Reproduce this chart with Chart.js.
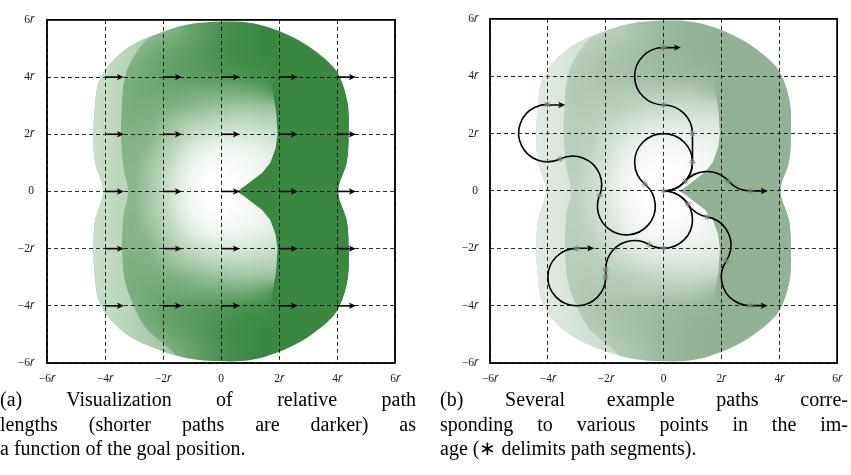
<!DOCTYPE html>
<html>
<head>
<meta charset="utf-8">
<script src="https://cdn.jsdelivr.net/npm/chart.js@4.4.0/dist/chart.umd.min.js"></script>
<style>
html,body{margin:0;padding:0;background:#fff;}
body{width:851px;height:475px;overflow:hidden;position:relative;}
canvas{position:absolute;top:0;}
#chartA{left:0;}
#chartB{left:440px;}
.cap{position:absolute;top:387px;font-family:'Liberation Serif','Times New Roman',serif;font-size:20px;line-height:24.6px;color:#000;}
.cap .j{text-align:justify;text-align-last:justify;}
.cap .l{text-align:left;}
</style>
</head>
<body>
<canvas id="chartA" width="420" height="390" style="width:420px;height:390px"></canvas>
<canvas id="chartB" width="411" height="390" style="width:411px;height:390px"></canvas>
<div class="cap" style="left:0;width:416px">
  <div class="j">(a) Visualization of relative path</div>
  <div class="j">lengths (shorter paths are darker) as</div>
  <div class="l">a function of the goal position.</div>
</div>
<div class="cap" style="left:440px;width:408px">
  <div class="j">(b) Several example paths corre-</div>
  <div class="j">sponding to various points in the im-</div>
  <div class="l">age (∗ delimits path segments).</div>
</div>
<script>
// ---------------- data ----------------
const tickValues = [-6, -4, -2, 0, 2, 4, 6];
const tickLabels = ['−6𝑟', '−4𝑟', '−2𝑟', '0', '2𝑟', '4𝑟', '6𝑟'];

// relative path length field (0 = white / long, 10 = darkest / short)
const fieldX = [-6,-5.5,-5,-4.5,-4,-3.5,-3,-2.5,-2,-1.5,-1,-0.5,0,0.5,1,1.5,2,2.5,3,3.5,4,4.5,5,5.5,6];
const fieldY = [6,5.5,5,4.5,4,3.5,3,2.5,2,1.5,1,0.5,0,-0.5,-1,-1.5,-2,-2.5,-3,-3.5,-4,-4.5,-5,-5.5,-6];
const darkness = [
  [6,6,6,6,6,6,6,6,6.3,6.8,7.8,8.5,9.1,9.5,9.8,10,10,10,10,10,10,10,10,10,10],
  [6,6,6,6,6,6,6,6,6.3,6.8,7.8,8.5,9.1,9.5,9.8,10,10,10,10,10,10,10,10,10,10],
  [6,6,6,6,6,6,6,6.5,7.3,7.8,8.2,8.8,9.3,9.6,9.8,10,10,10,10,10,10,10,10,10,10],
  [6.3,6.3,6.3,6.3,6.3,6.3,6.5,7.3,7.8,8.1,8.4,8.8,9.1,9.4,9.7,9.9,10,10,10,10,10,10,10,10,10],
  [6.5,6.5,6.5,6.5,6.5,6.5,6.8,7.5,7.8,8,8.3,8.5,8.7,8.9,9.2,9.5,10,10,10,10,10,10,10,10,10],
  [6.6,6.6,6.6,6.6,6.6,6.6,7,7.2,7.3,7.2,7,7,7,7,7.2,8,9.5,10,10,10,10,10,10,10,10],
  [6.6,6.6,6.6,6.6,6.6,6.6,6.8,6.8,6.8,6.5,6,5.5,5.2,5,5,5.2,5.2,10,10,10,10,10,10,10,10],
  [6.5,6.5,6.5,6.5,6.5,6.5,6.6,6.5,5.8,5,4.3,3.8,3.5,3.4,3.4,3.6,3.8,10,10,10,10,10,10,10,10],
  [6.4,6.4,6.4,6.4,6.4,6.4,6.4,6.2,5,4,3,2.4,2.1,2,2.1,2.4,2.6,10,10,10,10,10,10,10,10],
  [6.3,6.3,6.3,6.3,6.3,6.3,6.3,5.8,4.3,3,1.8,1.1,0.9,0.9,1.1,1.5,1.8,10,10,10,10,10,10,10,10],
  [6.2,6.2,6.2,6.2,6.2,6.2,6.2,5,3.8,2.3,1,0.4,0.3,0.4,0.6,1,1.2,10,10,10,10,10,10,10,10],
  [6,6,6,6,6,6,6,4.8,3.4,1.8,0.6,0.1,0,0.2,0.4,0.6,1,10,10,10,10,10,10,10,10],
  [6,6,6,6,6,6,6,4.8,3.3,1.7,0.5,0,0,0,0.3,0.5,1,10,10,10,10,10,10,10,10],
  [6,6,6,6,6,6,6,4.8,3.4,1.8,0.6,0.1,0,0.2,0.4,0.6,1,10,10,10,10,10,10,10,10],
  [6.2,6.2,6.2,6.2,6.2,6.2,6.2,5,3.8,2.3,1,0.4,0.3,0.4,0.6,1,1.2,10,10,10,10,10,10,10,10],
  [6.3,6.3,6.3,6.3,6.3,6.3,6.3,5.8,4.3,3,1.8,1.1,0.9,0.9,1.1,1.5,1.8,10,10,10,10,10,10,10,10],
  [6.4,6.4,6.4,6.4,6.4,6.4,6.4,6.2,5,4,3,2.4,2.1,2,2.1,2.4,2.6,10,10,10,10,10,10,10,10],
  [6.5,6.5,6.5,6.5,6.5,6.5,6.6,6.5,5.8,5,4.3,3.8,3.5,3.4,3.4,3.6,3.8,10,10,10,10,10,10,10,10],
  [6.6,6.6,6.6,6.6,6.6,6.6,6.7,6.8,6.8,6.5,6,5.5,5.2,5,5,5.2,5.2,10,10,10,10,10,10,10,10],
  [6.6,6.6,6.6,6.6,6.6,6.6,6.8,7.2,7.3,7.2,7,7,7,7,7.2,8,9.5,10,10,10,10,10,10,10,10],
  [6.5,6.5,6.5,6.5,6.5,6.5,6.6,7.3,7.8,8,8.3,8.5,8.7,8.9,9.2,9.5,10,10,10,10,10,10,10,10,10],
  [6.3,6.3,6.3,6.3,6.3,6.3,6.4,7,7.7,8.1,8.4,8.8,9.1,9.4,9.7,9.9,10,10,10,10,10,10,10,10,10],
  [6,6,6,6,6,6,6,6.5,7.2,7.8,8.2,8.8,9.3,9.6,9.8,10,10,10,10,10,10,10,10,10,10],
  [6,6,6,6,6,6,6,6,6.3,7,7.8,8.5,9.1,9.5,9.8,10,10,10,10,10,10,10,10,10,10],
  [6,6,6,6,6,6,6,6,6.3,7,7.8,8.5,9.1,9.5,9.8,10,10,10,10,10,10,10,10,10,10]
];
// outer limit of the shaded region (x, y in units of r)
const outlineX = [-4.06,-4.34,-4.40,-4.36,-4.22,-3.80,-3.10,-2.22,-1.18,0,1.11,2.26,3.20,3.98,4.36,4.40,4.33,4.04,
                  4.33,4.40,4.36,3.98,3.20,2.26,1.11,0,-1.18,-2.22,-3.10,-3.80,-4.22,-4.36,-4.40,-4.34];
const outlineY = [0,1.0,1.92,2.84,3.80,4.50,5.10,5.50,5.83,5.94,5.88,5.50,4.95,4.20,3.10,1.92,1.0,0,
                  -1.0,-1.92,-3.10,-4.20,-4.95,-5.50,-5.88,-5.94,-5.83,-5.50,-5.10,-4.50,-3.80,-2.84,-1.92,-1.0];
// inner edge of the light outer band on the left (top to bottom)
const bandEdgeX = [-1.2,-1.7,-2.55,-3.13,-3.35,-3.41,-3.45,-3.36,-3.2,-3.36,-3.41,-3.32,-3.0,-2.55,-1.75,-1.1];
const bandEdgeY = [6.3,5.72,5.31,4.5,3.8,3.13,1.98,0.83,0,-0.83,-1.95,-3.1,-4.02,-4.83,-5.52,-6.3];
const bandShadeX = [-4.45, -2.0];
const bandShade = [2.6, 4.6];
// sharp-edged dark region right of the start point
const notchX = [2.2,1.75,1.9,1.95,1.88,1.7,1.42,1.1,0.8,0.55,0.8,1.1,1.42,1.7,1.88,1.95,1.9,1.75,2.2,4.8,4.8];
const notchY = [4.4,3.7,2.8,2.0,1.5,1.0,0.65,0.4,0.17,0,-0.17,-0.4,-0.65,-1.0,-1.5,-2.0,-2.8,-3.7,-4.4,-4.4,4.4];

// (a) goal poses drawn as arrows
const arrowXs = [-4, -2, 0, 2, 4];
const arrowYs = [4, 2, 0, -2, -4];
const arrowLength = 0.65;

// (b) example goals and paths: segment type (L/R turn in degrees, S straight in r)
const goalXs = [0, -4, -3, 3, 3];
const goalYs = [5, 3, -2, 0, -4];
const goalArrowLength = 0.6;
const pathToTop      = [['L',90],['S',1],['L',90],['R',180]];
const pathToUpLeft   = [['L',320],['R',252],['L',137.8],['R',205.8]];
const pathToLowLeft  = [['R',180],['R',30],['L',120],['S',0.27],['R',270]];
const pathToRight    = [['L',48.6],['R',97.2],['L',48.6]];
const pathToLowRight = [['R',57.3],['L',47.2],['R',113.6],['L',123.7]];
const examplePaths = [pathToTop, pathToUpLeft, pathToLowLeft, pathToRight, pathToLowRight];

const darkA = [58, 136, 63];
const darkB = [146, 178, 150];
const FONT = "'Liberation Serif','Times New Roman',serif";

// ---------------- helpers ----------------
const cosd = a => Math.cos(a * Math.PI / 180);
const sind = a => Math.sin(a * Math.PI / 180);

function tracePath(segs) {
  let px = 0, py = 0, h = 0;
  const pieces = [], joints = [{x: 0, y: 0}];
  for (const [type, amt] of segs) {
    if (type === 'S') {
      const nx = px + amt * cosd(h), ny = py + amt * sind(h);
      pieces.push({type, x0: px, y0: py, x1: nx, y1: ny});
      px = nx; py = ny;
    } else {
      const s = type === 'L' ? 1 : -1;
      const cx = px + cosd(h + 90 * s), cy = py + sind(h + 90 * s);
      const a0 = h - 90 * s, a1 = a0 + s * amt;
      pieces.push({type, s, cx, cy, a0, a1});
      px = cx + cosd(a1); py = cy + sind(a1);
      h += s * amt;
    }
    joints.push({x: px, y: py});
  }
  return {pieces, joints};
}
const traced = examplePaths.map(tracePath);
const jointPoints = [{x: 0, y: 0}];
traced.forEach(t => t.joints.slice(1).forEach(p => jointPoints.push(p)));

const arrowPoints = [];
arrowYs.forEach(y => arrowXs.forEach(x => arrowPoints.push({x, y})));
const goalPoints = goalXs.map((x, i) => ({x, y: goalYs[i]}));

function shade(dark, v) {
  const t = v / 10;
  return [0, 1, 2].map(i => Math.round(255 + (dark[i] - 255) * t));
}
function rgb(c) { return `rgb(${c[0]},${c[1]},${c[2]})`; }

function fieldImage(dark) {
  const nX = fieldX.length, nY = fieldY.length;
  const off = document.createElement('canvas');
  off.width = nX; off.height = nY;
  const octx = off.getContext('2d');
  const img = octx.createImageData(nX, nY);
  for (let r = 0; r < nY; r++) for (let c = 0; c < nX; c++) {
    const col = shade(dark, darkness[r][c]), k = (r * nX + c) * 4;
    img.data[k] = col[0]; img.data[k + 1] = col[1]; img.data[k + 2] = col[2]; img.data[k + 3] = 255;
  }
  octx.putImageData(img, 0, 0);
  return off;
}

function curveThrough(ctx, pts, closed) {
  const n = pts.length;
  const at = i => closed ? pts[(i + n) % n] : pts[Math.max(0, Math.min(n - 1, i))];
  const last = closed ? n : n - 1;
  for (let i = 0; i < last; i++) {
    const p0 = at(i - 1), p1 = at(i), p2 = at(i + 1), p3 = at(i + 2);
    ctx.bezierCurveTo(p1[0] + (p2[0] - p0[0]) / 6, p1[1] + (p2[1] - p0[1]) / 6,
                      p2[0] - (p3[0] - p1[0]) / 6, p2[1] - (p3[1] - p1[1]) / 6, p2[0], p2[1]);
  }
}

function drawArrow(ctx, x0, y0, x1, y1) {
  ctx.beginPath();
  ctx.moveTo(x0, y0); ctx.lineTo(x1 - 4, y1);
  ctx.stroke();
  ctx.beginPath();
  ctx.moveTo(x1, y1);
  ctx.lineTo(x1 - 7, y1 - 3.2);
  ctx.lineTo(x1 - 5.2, y1);
  ctx.lineTo(x1 - 7, y1 + 3.2);
  ctx.closePath();
  ctx.fill();
}

const fieldPlugin = {
  id: 'field',
  beforeDraw(chart, args, opts) {
    const {ctx, chartArea: a, scales: {x, y}} = chart;
    const P = (vx, vy) => [x.getPixelForValue(vx), y.getPixelForValue(vy)];
    if (!chart.$fieldImg) chart.$fieldImg = fieldImage(opts.dark);
    ctx.save();
    ctx.beginPath(); ctx.rect(a.left, a.top, a.width, a.height); ctx.clip();
    // outer limit
    const outer = outlineX.map((v, i) => P(v, outlineY[i]));
    ctx.beginPath(); ctx.moveTo(outer[0][0], outer[0][1]); curveThrough(ctx, outer, true); ctx.closePath();
    ctx.clip();
    // smooth field
    const hx = (fieldX[1] - fieldX[0]) / 2, hy = (fieldY[0] - fieldY[1]) / 2;
    const tl = P(fieldX[0] - hx, fieldY[0] + hy), br = P(fieldX[fieldX.length - 1] + hx, fieldY[fieldY.length - 1] - hy);
    ctx.imageSmoothingEnabled = true;
    ctx.imageSmoothingQuality = 'medium';
    ctx.drawImage(chart.$fieldImg, tl[0], tl[1], br[0] - tl[0], br[1] - tl[1]);
    // light outer band
    const g = ctx.createLinearGradient(x.getPixelForValue(bandShadeX[0]), 0, x.getPixelForValue(bandShadeX[1]), 0);
    g.addColorStop(0, rgb(shade(opts.dark, bandShade[0])));
    g.addColorStop(1, rgb(shade(opts.dark, bandShade[1])));
    const edge = bandEdgeX.map((v, i) => P(v, bandEdgeY[i]));
    ctx.fillStyle = g;
    ctx.beginPath(); ctx.moveTo(edge[0][0], edge[0][1]); curveThrough(ctx, edge, false);
    const bl = P(-7, bandEdgeY[bandEdgeY.length - 1]), tp = P(-7, bandEdgeY[0]);
    ctx.lineTo(bl[0], bl[1]); ctx.lineTo(tp[0], tp[1]); ctx.closePath(); ctx.fill();
    // dark notch region
    ctx.fillStyle = rgb(opts.dark);
    ctx.beginPath();
    notchX.forEach((v, i) => { const p = P(v, notchY[i]); i ? ctx.lineTo(p[0], p[1]) : ctx.moveTo(p[0], p[1]); });
    ctx.closePath(); ctx.fill();
    ctx.restore();
  }
};

const marksPlugin = {
  id: 'marks',
  beforeDatasetsDraw(chart, args, opts) {
    const {ctx, chartArea: a, scales: {x, y}} = chart;
    ctx.save();
    ctx.beginPath(); ctx.rect(a.left, a.top, a.width, a.height); ctx.clip();
    ctx.strokeStyle = '#000'; ctx.fillStyle = '#000';
    ctx.lineCap = 'butt'; ctx.lineJoin = 'round';
    const rx = x.getPixelForValue(1) - x.getPixelForValue(0);
    const ry = y.getPixelForValue(0) - y.getPixelForValue(1);
    if (opts.paths) {
      ctx.lineWidth = 1.6;
      traced.forEach(tp => {
        ctx.beginPath();
        ctx.moveTo(x.getPixelForValue(0), y.getPixelForValue(0));
        tp.pieces.forEach(p => {
          if (p.type === 'S') ctx.lineTo(x.getPixelForValue(p.x1), y.getPixelForValue(p.y1));
          else ctx.ellipse(x.getPixelForValue(p.cx), y.getPixelForValue(p.cy), rx, ry, 0,
                           -p.a0 * Math.PI / 180, -p.a1 * Math.PI / 180, p.s === 1);
        });
        ctx.stroke();
      });
    }
    const len = opts.arrowLength;
    ctx.lineWidth = 1.6;
    chart.data.datasets[0].data.forEach(p => {
      drawArrow(ctx, x.getPixelForValue(p.x), y.getPixelForValue(p.y),
                x.getPixelForValue(p.x + len), y.getPixelForValue(p.y));
    });
    ctx.restore();
  }
};

const framePlugin = {
  id: 'frame',
  afterDraw(chart) {
    const {ctx, chartArea: a} = chart;
    ctx.save();
    ctx.strokeStyle = '#000'; ctx.lineWidth = 1.8;
    ctx.strokeRect(a.left, a.top, a.width, a.height);
    ctx.restore();
  }
};

function axis(extra, tickPad) {
  return Object.assign({
    type: 'linear', min: -6, max: 6,
    afterBuildTicks: s => { s.ticks = tickValues.map(v => ({value: v})); },
    ticks: {callback: (v, i) => tickLabels[i], font: {family: FONT, size: 11.5}, color: '#1a1a1a',
            padding: tickPad, maxRotation: 0, autoSkip: false},
    grid: {color: '#111', lineWidth: 0.9, drawTicks: false},
    border: {display: false, dash: [4, 3]}
  }, extra);
}

function makeChart(id, cfg) {
  return new Chart(document.getElementById(id), {
    type: 'scatter',
    data: {datasets: cfg.datasets},
    options: {
      responsive: false, animation: false, devicePixelRatio: 1,
      layout: {padding: {top: 15, right: cfg.padRight, left: 0, bottom: 0}},
      plugins: {
        legend: {display: false}, tooltip: {enabled: false},
        field: {dark: cfg.dark},
        marks: {paths: cfg.paths, arrowLength: cfg.arrowLength}
      },
      scales: {
        x: axis({afterFit: s => { s.height = 27; }}, 9),
        y: axis({afterFit: s => { s.width = cfg.yWidth; }}, cfg.yPad)
      }
    },
    plugins: [fieldPlugin, marksPlugin, framePlugin]
  });
}

makeChart('chartA', {
  dark: darkA, padRight: 25, yWidth: 47, yPad: 13, paths: false, arrowLength: arrowLength,
  datasets: [{label: 'goal poses', data: arrowPoints, pointRadius: 0}]
});

makeChart('chartB', {
  dark: darkB, padRight: 11, yWidth: 50, yPad: 12, paths: true, arrowLength: goalArrowLength,
  datasets: [
    {label: 'goals', data: goalPoints, pointRadius: 0},
    {label: 'segment ends', data: jointPoints, pointStyle: 'star', pointRadius: 3.2,
     borderColor: '#7a7a7a', backgroundColor: '#7a7a7a', borderWidth: 0.9}
  ]
});
</script>
</body>
</html>
